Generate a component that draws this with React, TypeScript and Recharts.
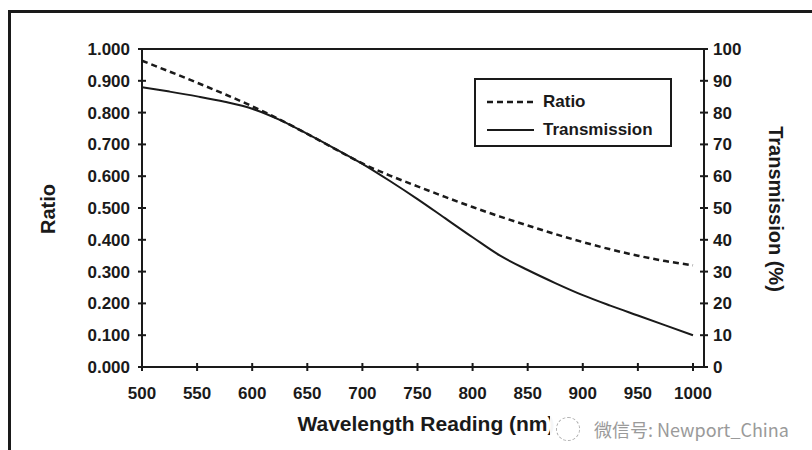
import { LineChart, Line, XAxis, YAxis, ReferenceLine } from "recharts";

const wavelengths = [500, 525, 550, 575, 600, 625, 650, 675, 700, 725, 750, 775, 800, 825, 850, 875, 900, 925, 950, 975, 1000];
const ratioValues = [0.963, 0.929, 0.894, 0.858, 0.82, 0.778, 0.733, 0.686, 0.64, 0.602, 0.568, 0.535, 0.503, 0.473, 0.445, 0.418, 0.393, 0.37, 0.35, 0.333, 0.32];
const transmissionValues = [88, 86.6, 85.1, 83.4, 81.2, 77.7, 73.3, 68.7, 63.9, 58.5, 52.8, 46.8, 40.8, 35, 30.5, 26.4, 22.6, 19.3, 16.2, 13.1, 10];

const xTicks = [500, 550, 600, 650, 700, 750, 800, 850, 900, 950, 1000];
const ratioTicks = [0, 0.1, 0.2, 0.3, 0.4, 0.5, 0.6, 0.7, 0.8, 0.9, 1.0];
const transmissionTicks = [0, 10, 20, 30, 40, 50, 60, 70, 80, 90, 100];

const data = wavelengths.map((w, i) => ({
  wavelength: w,
  ratio: ratioValues[i],
  transmission: transmissionValues[i],
}));

const FONT = '"Liberation Sans", Arial, sans-serif';
const INK = "#1a1a1a";

const LeftTick = ({ x, y, payload }: any) => (
  <g>
    <line x1={x + 8} x2={x + 16} y1={y} y2={y} stroke={INK} strokeWidth={2} />
    <text x={x} y={y} dy="0.355em" textAnchor="end" fontFamily={FONT} fontWeight={700} fontSize={17} fill={INK}>
      {Number(payload.value).toFixed(3)}
    </text>
  </g>
);

const RightTick = ({ x, y, payload }: any) => (
  <g>
    <line x1={x - 13} x2={x - 5} y1={y} y2={y} stroke={INK} strokeWidth={2} />
    <text x={x} y={y} dy="0.355em" textAnchor="start" fontFamily={FONT} fontWeight={700} fontSize={17} fill={INK}>
      {payload.value}
    </text>
  </g>
);

const BottomTick = ({ x, y, payload }: any) => (
  <g>
    <line x1={x} x2={x} y1={y - 30} y2={y - 22} stroke={INK} strokeWidth={2} />
    <text x={x} y={y} dy="0.355em" textAnchor="middle" fontFamily={FONT} fontWeight={700} fontSize={17} fill={INK}>
      {payload.value}
    </text>
  </g>
);

export default function App() {
  return (
    <div style={{ position: "absolute", left: 0, top: 0, width: 812, height: 450, overflow: "hidden", background: "#fff" }}>
      <div style={{ position: "absolute", left: 8, top: 10, width: 830, height: 470, border: `3px solid ${INK}` }} />
      <LineChart
        width={812}
        height={450}
        data={data}
        margin={{ top: 49, right: 58, bottom: 53, left: 62 }}
        style={{ position: "absolute", left: 0, top: 0 }}
      >
        <XAxis
          dataKey="wavelength"
          type="number"
          domain={[500, 1010]}
          ticks={xTicks}
          height={30}
          tickSize={0}
          tickMargin={26}
          tickLine={false}
          axisLine={{ stroke: INK, strokeWidth: 2 }}
          tick={<BottomTick />}
          interval={0}
        />
        <YAxis
          yAxisId="ratio"
          orientation="left"
          domain={[0, 1]}
          ticks={ratioTicks}
          width={80}
          tickSize={0}
          tickMargin={12}
          tickLine={false}
          axisLine={{ stroke: INK, strokeWidth: 2 }}
          tick={<LeftTick />}
          interval={0}
        />
        <YAxis
          yAxisId="trans"
          orientation="right"
          domain={[0, 100]}
          ticks={transmissionTicks}
          width={50}
          tickSize={0}
          tickMargin={9}
          tickLine={false}
          axisLine={{ stroke: INK, strokeWidth: 2 }}
          tick={<RightTick />}
          interval={0}
        />
        <ReferenceLine yAxisId="ratio" y={1} stroke={INK} strokeWidth={2} />
        <Line
          yAxisId="ratio"
          dataKey="ratio"
          type="monotone"
          stroke={INK}
          strokeWidth={2.5}
          strokeDasharray="6 4"
          dot={false}
          isAnimationActive={false}
        />
        <Line
          yAxisId="trans"
          dataKey="transmission"
          type="monotone"
          stroke={INK}
          strokeWidth={2}
          dot={false}
          isAnimationActive={false}
        />
      </LineChart>

      {/* legend box */}
      <div
        style={{
          position: "absolute",
          left: 474,
          top: 78,
          width: 194,
          height: 65,
          border: `2px solid ${INK}`,
          background: "#fff",
          fontFamily: FONT,
          fontWeight: 700,
          fontSize: 17,
          color: INK,
        }}
      >
        <div style={{ position: "absolute", left: 11, top: 12, display: "flex", alignItems: "center" }}>
          <svg width={47} height={4}>
            <line x1={0} x2={47} y1={2} y2={2} stroke={INK} strokeWidth={2.5} strokeDasharray="6 4" />
          </svg>
          <span style={{ marginLeft: 9, lineHeight: "20px" }}>Ratio</span>
        </div>
        <div style={{ position: "absolute", left: 11, top: 40, display: "flex", alignItems: "center" }}>
          <svg width={47} height={4}>
            <line x1={0} x2={47} y1={2} y2={2} stroke={INK} strokeWidth={2} />
          </svg>
          <span style={{ marginLeft: 9, lineHeight: "20px" }}>Transmission</span>
        </div>
      </div>

      {/* axis titles */}
      <div
        style={{
          position: "absolute",
          left: 48,
          top: 209,
          transform: "translate(-50%, -50%) rotate(-90deg)",
          fontFamily: FONT,
          fontWeight: 700,
          fontSize: 20,
          color: INK,
          whiteSpace: "nowrap",
        }}
      >
        Ratio
      </div>
      <div
        style={{
          position: "absolute",
          left: 775,
          top: 209,
          transform: "translate(-50%, -50%) rotate(90deg)",
          fontFamily: FONT,
          fontWeight: 700,
          fontSize: 20,
          color: INK,
          whiteSpace: "nowrap",
        }}
      >
        Transmission (%)
      </div>
      <div
        style={{
          position: "absolute",
          left: 426,
          top: 424,
          transform: "translate(-50%, -50%)",
          fontFamily: FONT,
          fontWeight: 700,
          fontSize: 21,
          color: INK,
          whiteSpace: "nowrap",
        }}
      >
        Wavelength Reading (nm)
      </div>

      {/* watermark */}
      <div
        style={{
          position: "absolute",
          left: 550,
          top: 414,
          height: 30,
          paddingLeft: 6,
          paddingRight: 20,
          display: "flex",
          alignItems: "center",
          background: "rgba(255,255,255,0.96)",
          fontFamily: '"Noto Sans CJK SC", "Noto Sans", sans-serif',
          fontSize: 18,
          color: "#9a9a9a",
          whiteSpace: "nowrap",
        }}
      >
        <span
          style={{
            display: "inline-block",
            width: 22,
            height: 22,
            borderRadius: "50%",
            border: "1.5px dashed #b0b0b0",
            marginRight: 14,
          }}
        />
        微信号: Newport_China
      </div>
    </div>
  );
}
